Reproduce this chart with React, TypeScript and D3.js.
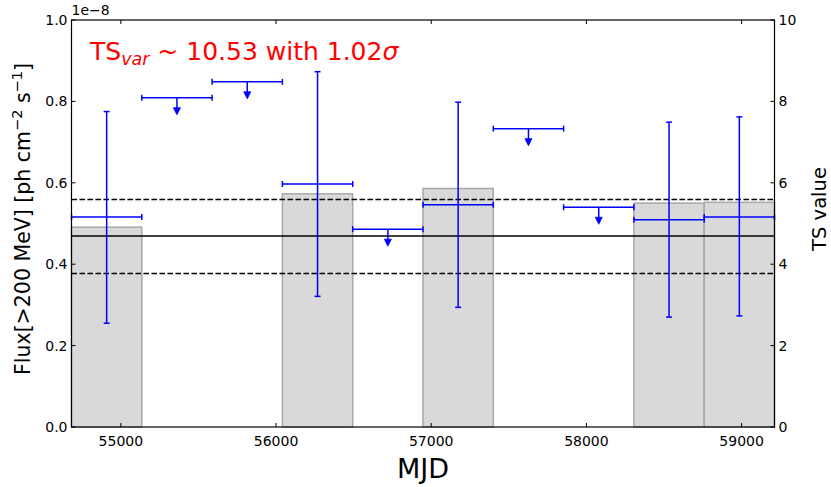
import React from "react";
import * as d3 from "d3";

const binLo = [54682, 55135, 55588, 56041, 56494, 56947, 57400, 57853, 58306, 58759];
const binHi = [55135, 55588, 56041, 56494, 56947, 57400, 57853, 58306, 58759, 59212];
// flux in units of 1e-8; null where upper limit
const flux = [0.516, null, null, 0.597, null, 0.546, null, null, 0.509, 0.516];
const fluxLo = [0.255, null, null, 0.321, null, 0.294, null, null, 0.27, 0.273];
const fluxHi = [0.775, null, null, 0.873, null, 0.798, null, null, 0.749, 0.762];
const upperLimit = [null, 0.809, 0.848, null, 0.486, null, 0.733, 0.54, null, null];
const tsValue = [4.91, null, null, 5.73, null, 5.86, null, null, 5.5, 5.52];
const meanFlux = 0.469;
const bandHi = 0.559;
const bandLo = 0.377;
const xTicks = [55000, 56000, 57000, 58000, 59000];
const yTicks = [0, 0.2, 0.4, 0.6, 0.8, 1.0];
const tsTicks = [0, 2, 4, 6, 8, 10];

const W = 831, H = 487;
const L = 71.5, R = 774.5, T = 20, B = 427;
const FONT = "DejaVu Sans, sans-serif";

export default function App() {
  const x = d3.scaleLinear().domain([54682, 59212]).range([L, R]);
  const y = d3.scaleLinear().domain([0, 1]).range([B, T]);
  const yTS = d3.scaleLinear().domain([0, 10]).range([B, T]);
  const blue = "#0000ff";
  const cap = 3;
  const tick = 4;

  return (
    <svg width={W} height={H} style={{ position: "absolute", left: 0, top: 0, background: "#fff" }} fontFamily={FONT}>
      {/* TS bars */}
      {tsValue.map((v, i) =>
        v == null ? null : (
          <rect key={"b" + i} x={x(binLo[i])} y={yTS(v)} width={x(binHi[i]) - x(binLo[i])} height={B - yTS(v)}
            fill="#d9d9d9" stroke="#a8a8a8" strokeWidth={1.5} />
        )
      )}
      {/* reference lines */}
      <line x1={L} x2={R} y1={y(meanFlux)} y2={y(meanFlux)} stroke="#000" strokeWidth={1.5} />
      <line x1={L} x2={R} y1={y(bandHi)} y2={y(bandHi)} stroke="#000" strokeWidth={1.5} strokeDasharray="5.5,2.5" />
      <line x1={L} x2={R} y1={y(bandLo)} y2={y(bandLo)} stroke="#000" strokeWidth={1.5} strokeDasharray="5.5,2.5" />
      {/* detections */}
      {flux.map((f, i) => {
        if (f == null) return null;
        const cx = x((binLo[i] + binHi[i]) / 2);
        const x0 = x(binLo[i]), x1 = x(binHi[i]);
        const yc = y(f), yt = y(fluxHi[i] as number), yb = y(fluxLo[i] as number);
        return (
          <g key={"d" + i} stroke={blue} strokeWidth={1.5}>
            <line x1={x0} x2={x1} y1={yc} y2={yc} />
            <line x1={x0} x2={x0} y1={yc - cap} y2={yc + cap} />
            <line x1={x1} x2={x1} y1={yc - cap} y2={yc + cap} />
            <line x1={cx} x2={cx} y1={yt} y2={yb} />
            <line x1={cx - cap} x2={cx + cap} y1={yt} y2={yt} />
            <line x1={cx - cap} x2={cx + cap} y1={yb} y2={yb} />
          </g>
        );
      })}
      {/* upper limits */}
      {upperLimit.map((u, i) => {
        if (u == null) return null;
        const cx = x((binLo[i] + binHi[i]) / 2);
        const x0 = x(binLo[i]), x1 = x(binHi[i]);
        const yc = y(u);
        return (
          <g key={"u" + i}>
            <g stroke={blue} strokeWidth={1.5}>
              <line x1={x0} x2={x1} y1={yc} y2={yc} />
              <line x1={x0} x2={x0} y1={yc - cap} y2={yc + cap} />
              <line x1={x1} x2={x1} y1={yc - cap} y2={yc + cap} />
              <line x1={cx} x2={cx} y1={yc} y2={yc + 11} />
            </g>
            <path d={`M${cx - 3.5},${yc + 10} L${cx + 3.5},${yc + 10} L${cx},${yc + 17} Z`} fill={blue} stroke={blue} strokeWidth={0.8} />
          </g>
        );
      })}
      {/* frame */}
      <rect x={L} y={T} width={R - L} height={B - T} fill="none" stroke="#000" strokeWidth={1.2} />
      {/* x ticks */}
      {xTicks.map((t) => (
        <g key={"x" + t}>
          <line x1={x(t)} x2={x(t)} y1={B} y2={B - tick} stroke="#000" strokeWidth={1} />
          <line x1={x(t)} x2={x(t)} y1={T} y2={T + tick} stroke="#000" strokeWidth={1} />
          <text x={x(t)} y={B + 19} fontSize={14} textAnchor="middle">{t}</text>
        </g>
      ))}
      {/* left ticks */}
      {yTicks.map((t) => (
        <g key={"y" + t}>
          <line x1={L} x2={L + tick} y1={y(t)} y2={y(t)} stroke="#000" strokeWidth={1} />
          <text x={L - 4} y={y(t) + 5} fontSize={14} textAnchor="end">{t.toFixed(1)}</text>
        </g>
      ))}
      {/* right ticks */}
      {tsTicks.map((t) => (
        <g key={"t" + t}>
          <line x1={R} x2={R - tick} y1={yTS(t)} y2={yTS(t)} stroke="#000" strokeWidth={1} />
          <text x={R + 4} y={yTS(t) + 5} fontSize={14} textAnchor="start">{t}</text>
        </g>
      ))}
      <text x={L} y={15} fontSize={14}>1e−8</text>
      {/* title annotation */}
      <text x={90} y={60} fontSize={25} fill="#ff0000">
        TS<tspan fontSize={17.5} fontStyle="italic" dy={5}>var</tspan>
        <tspan dy={-5}> ~ 10.53 with 1.02</tspan>
        <tspan fontStyle="italic">σ</tspan>
      </text>
      {/* axis labels */}
      <text x={(L + R) / 2} y={478} fontSize={27} textAnchor="middle">MJD</text>
      <text transform={`translate(30,219) rotate(-90)`} fontSize={20.5} textAnchor="middle">
        Flux[&gt;200 MeV] [ph cm<tspan dy={-8} fontSize={14.5}>−2</tspan><tspan dy={8}> s</tspan><tspan dy={-8} fontSize={14.5}>−1</tspan><tspan dy={8}>]</tspan>
      </text>
      <text transform={`translate(826,209) rotate(-90)`} fontSize={19.5} textAnchor="middle">TS value</text>
    </svg>
  );
}
